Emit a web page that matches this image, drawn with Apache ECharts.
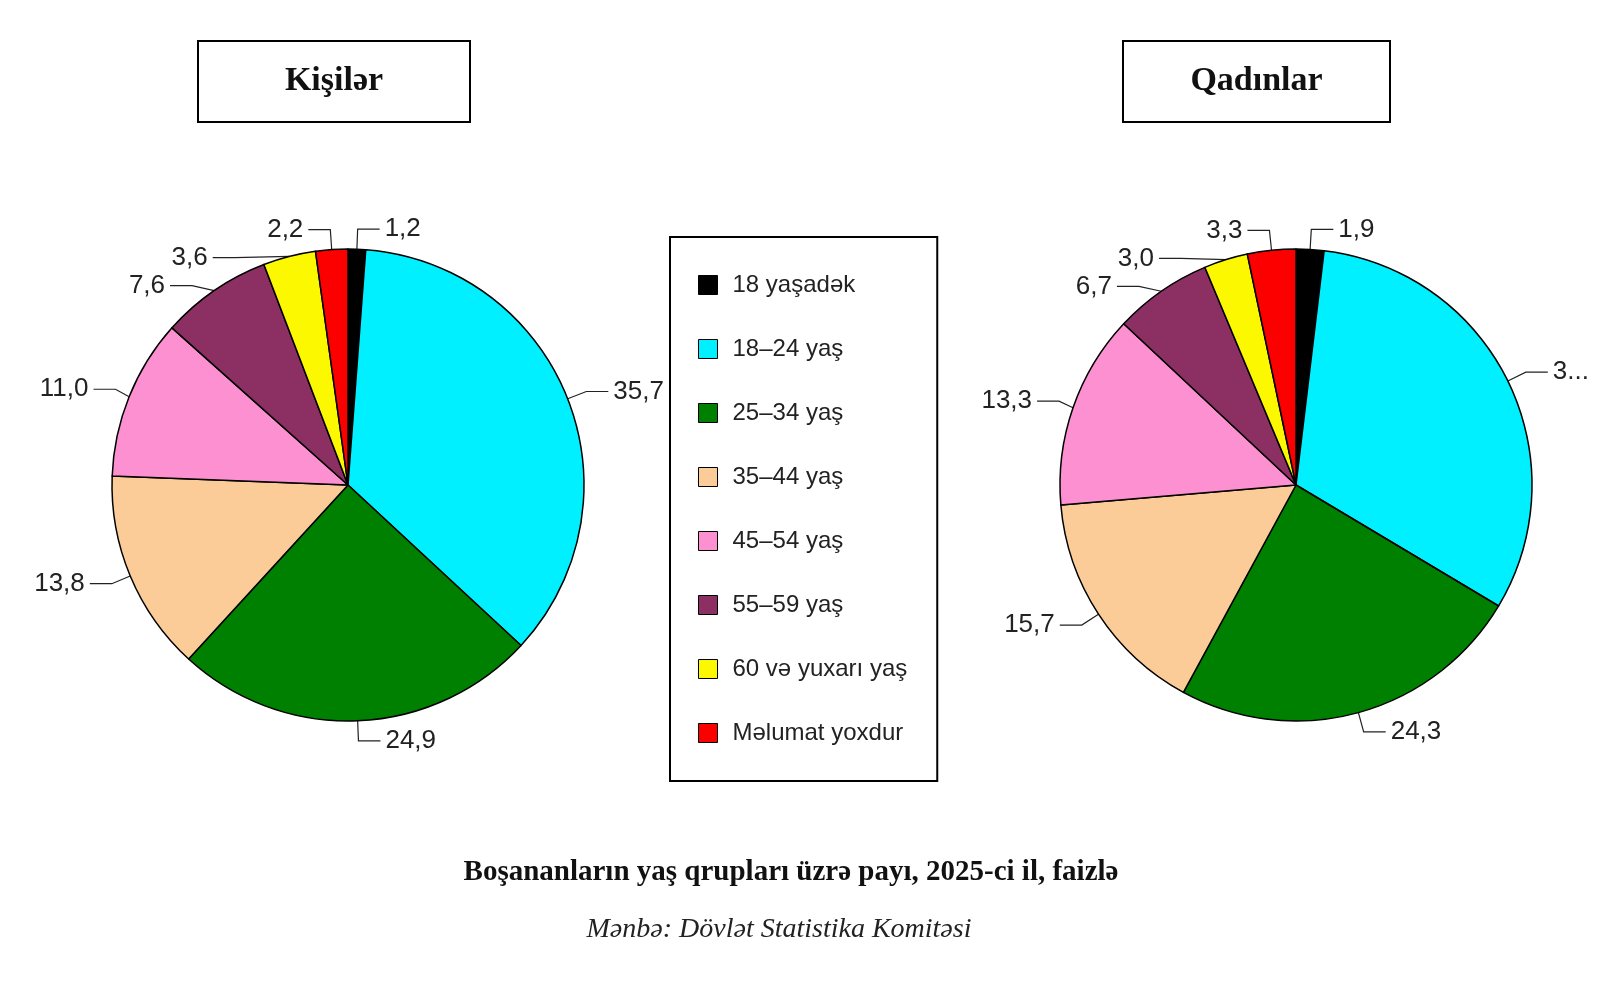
<!DOCTYPE html>
<html><head><meta charset="utf-8">
<script src="https://cdn.jsdelivr.net/npm/echarts@6/dist/echarts.min.js"></script>
<style>html,body{margin:0;background:#fff}#c{width:1600px;height:983px}</style>
</head><body><div id="c"></div>
<script>
const categories = ['18 yaşadək', '18–24 yaş', '25–34 yaş', '35–44 yaş', '45–54 yaş', '55–59 yaş', '60 və yuxarı yaş', 'Məlumat yoxdur'];
const menValues = [1.2, 35.7, 24.9, 13.8, 11.0, 7.6, 3.6, 2.2];
const womenValues = [1.9, 31.6, 24.3, 15.7, 13.3, 6.7, 3.0, 3.3];
const colors = ['#000000', '#00f0ff', '#008000', '#fccc98', '#fc90d0', '#8c3064', '#fcf800', '#fc0000'];

const chart = echarts.init(document.getElementById('c'));
const fmt = p => p.value.toFixed(1).replace('.', ',');
function pie(values, cx) {
  return {
    type: 'pie', center: [cx, 485], radius: 236, startAngle: 90, clockwise: true,
    data: categories.map((n, i) => ({ name: n, value: values[i] })),
    itemStyle: { borderColor: '#000', borderWidth: 1.5 },
    label: { formatter: fmt, fontSize: 26, color: '#222', fontFamily: 'Liberation Sans' },
    labelLine: { length: 20, length2: 22, lineStyle: { color: '#222', width: 1.2 } },
    emphasis: { disabled: true }, animation: false
  };
}
function titleBox(x, w, text) {
  return [
    { type: 'rect', shape: { x: x, y: 41, width: w, height: 81 }, style: { fill: '#fff', stroke: '#000', lineWidth: 2 } },
    { type: 'text', x: x + w / 2, y: 81, style: { text: text, font: 'bold 34px "Liberation Serif"', fill: '#111', align: 'center', verticalAlign: 'middle' } }
  ];
}
chart.setOption({
  color: colors,
  animation: false,
  legend: {
    orient: 'vertical', left: 670, top: 237, width: 250,
    padding: [36, 30, 36, 28], itemGap: 40, itemWidth: 19, itemHeight: 19,
    icon: 'rect', borderColor: '#000', borderWidth: 2,
    itemStyle: { borderColor: '#000', borderWidth: 1 },
    textStyle: { fontSize: 24, color: '#222', fontFamily: 'Liberation Sans', padding: [0, 0, 0, 10] },
    data: categories, selectedMode: false
  },
  graphic: [
    ...titleBox(198, 272, 'Kişilər'),
    ...titleBox(1123, 267, 'Qadınlar'),
    { type: 'text', x: 791, y: 873, style: { text: 'Boşananların yaş qrupları üzrə payı, 2025-ci il, faizlə', font: 'bold 29px "Liberation Serif"', fill: '#111', align: 'center', verticalAlign: 'middle' } },
    { type: 'text', x: 779, y: 930, style: { text: 'Mənbə: Dövlət Statistika Komitəsi', font: 'italic 28px "Liberation Serif"', fill: '#222', align: 'center', verticalAlign: 'middle' } }
  ],
  series: [pie(menValues, 348), pie(womenValues, 1296)]
});
</script></body></html>
